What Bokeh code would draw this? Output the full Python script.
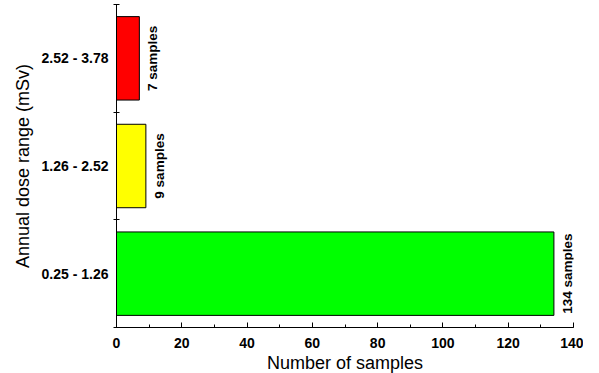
import math
from bokeh.plotting import figure
from bokeh.models import ColumnDataSource, FixedTicker
from bokeh.core.properties import value
from bokeh.embed import file_html
from bokeh.resources import INLINE

categories = ["0.25 - 1.26", "1.26 - 2.52", "2.52 - 3.78"]
counts = [134, 9, 7]
colors = ["#00ff00", "#ffff00", "#ff0000"]
value_labels = ["134 samples", "9 samples", "7 samples"]
x_ticks = [0, 20, 40, 60, 80, 100, 120, 140]

ypos = [i + 0.5 for i in range(len(categories))]
src = ColumnDataSource(dict(y=ypos, right=counts, color=colors, lab=value_labels))

p = figure(frame_width=457, frame_height=323, output_backend="svg", toolbar_location=None,
           x_range=(0, 140), y_range=(0, 3),
           min_border_left=116, min_border_right=10, min_border_top=4, min_border_bottom=30)
p.outline_line_color = None
p.xgrid.visible = False
p.ygrid.visible = False
p.background_fill_color = "white"
p.border_fill_color = "white"

p.hbar(y="y", left=0, right="right", height=0.775, fill_color="color",
       line_color="black", line_width=1, source=src)

p.text(x="right", y="y", text="lab", source=src, angle=math.pi / 2,
       x_offset=6, text_align="center", text_baseline="top",
       text_font=value("Liberation Sans"), text_font_style="bold",
       text_font_size="13.5px", text_color="black")

for ax in (p.xaxis[0], p.yaxis[0]):
    ax.axis_line_color = "black"
    ax.major_tick_line_color = "black"
    ax.minor_tick_line_color = "black"
    ax.axis_label_text_color = "black"
    ax.major_label_text_color = "black"
    ax.axis_label_text_font = "Liberation Sans"
    ax.axis_label_text_font_style = "normal"
    ax.axis_label_text_font_size = "18px"
    ax.axis_label_text_line_height = 1.0
    ax.major_label_text_font = "Liberation Sans"
    ax.major_label_text_font_style = "bold"
    ax.major_label_text_font_size = "14px"
    ax.major_label_text_line_height = 1.0

xa = p.xaxis[0]
xa.ticker = FixedTicker(ticks=x_ticks, minor_ticks=list(range(0, 141, 10)))
xa.major_tick_in = 5
xa.major_tick_out = 0
xa.minor_tick_in = 3
xa.minor_tick_out = 0
xa.axis_label = "Number of samples"
xa.axis_label_standoff = 2
xa.major_label_standoff = 10

ya = p.yaxis[0]
ya.ticker = FixedTicker(ticks=ypos, minor_ticks=[0, 1, 2, 3])
ya.major_label_overrides = {ypos[i]: categories[i] for i in range(len(categories))}
ya.major_tick_in = 0
ya.major_tick_out = 0
ya.minor_tick_in = 3
ya.minor_tick_out = 3
ya.axis_label = "Annual dose range (mSv)"
ya.axis_label_standoff = 6
ya.major_label_standoff = 5

open("out.html", "w").write(file_html(p, INLINE))
